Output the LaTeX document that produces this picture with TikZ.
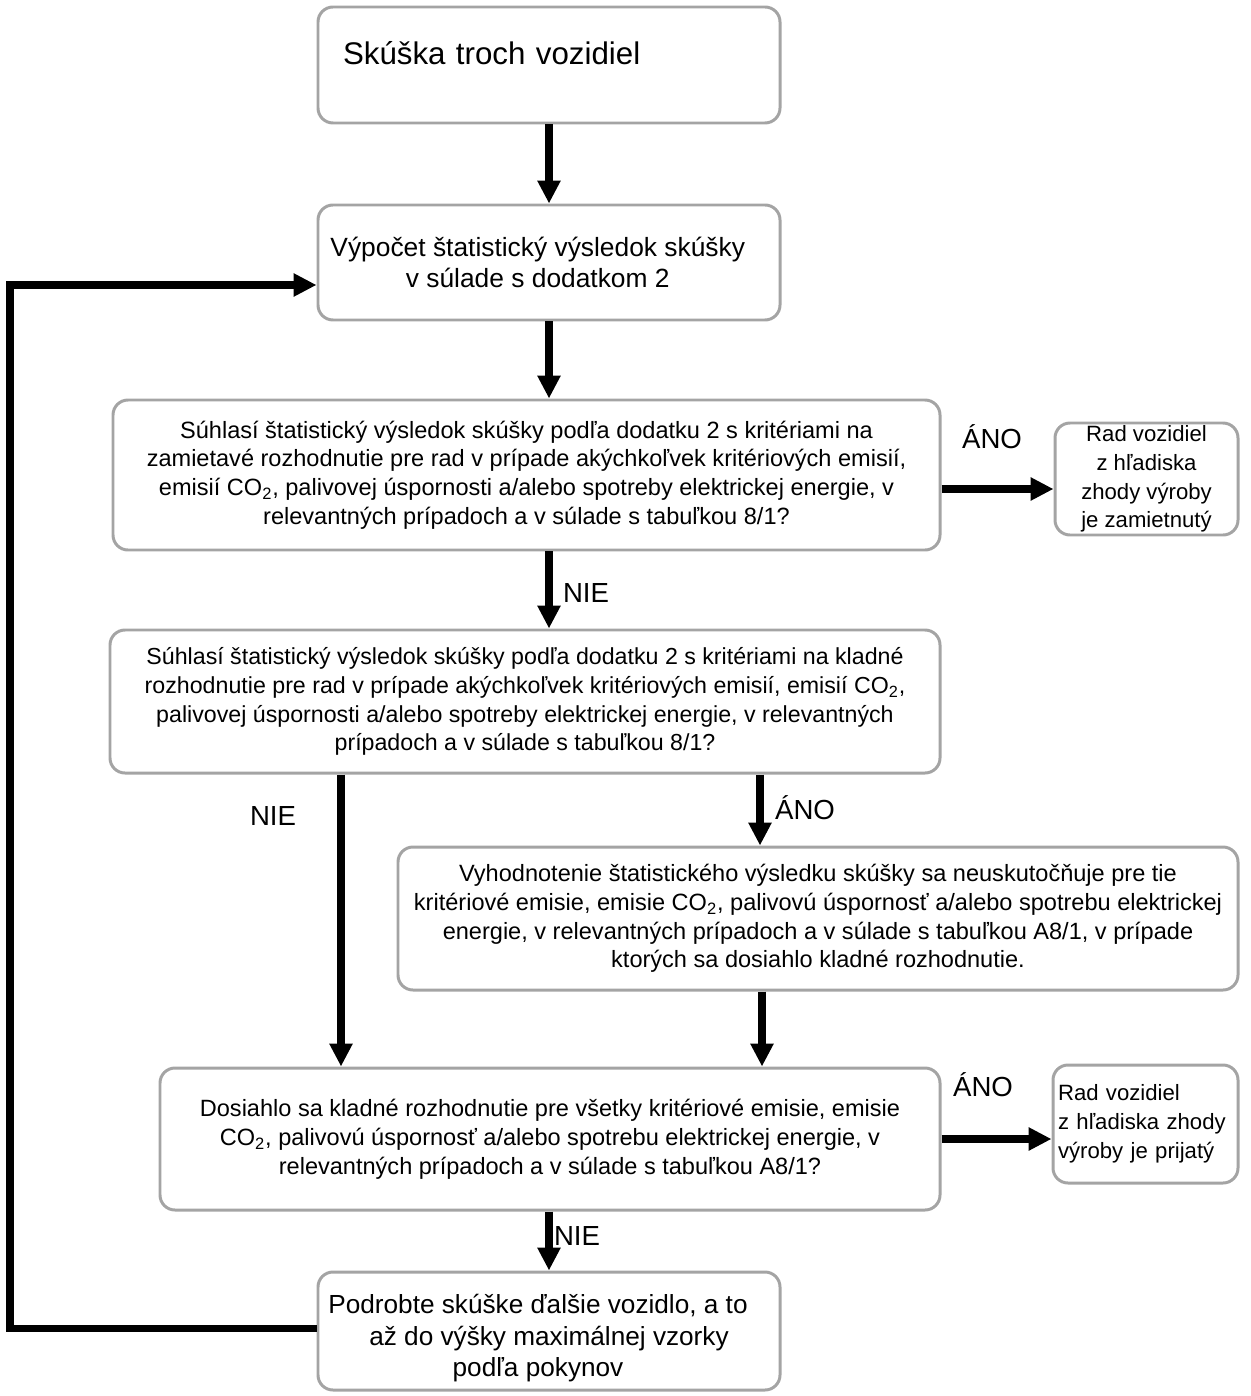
\documentclass[tikz,border=0pt]{standalone}
\usepackage{fontspec}
\setmainfont{Liberation Sans}
\usetikzlibrary{arrows.meta,positioning,calc}
\definecolor{BoxGray}{HTML}{A4A4A4}

\begin{document}
\begin{tikzpicture}[
  box/.style={draw=BoxGray,line width=1.7pt,fill=white,
    rounded corners=0.3cm,align=center,inner sep=0pt,
    font=\fontsize{13.4}{16.4}\selectfont},
  bigbox/.style={box,font=\fontsize{15}{17.2}\selectfont},
  sidebox/.style={box,font=\fontsize{12.6}{16.4}\selectfont},
  answer/.style={inner sep=0pt,font=\fontsize{15.7}{18}\selectfont},
  flow/.style={-{Triangle[length=4.6mm,width=4.4mm]},line width=4pt}
]
\useasboundingbox (0,0) rectangle (25,-27.92);

% main column
\node[bigbox,align=left,text width=8.24cm,inner xsep=0.5cm,minimum height=2.32cm,
  text depth=0.5cm,font=\fontsize{17.8}{20}\selectfont] (trial) at (10.98,-1.30)
  {Skúška troch vozidiel};
\node[bigbox,minimum width=9.24cm,minimum height=2.30cm] (calc) at (10.98,-5.25)
  {Výpočet štatistický výsledok skúšky\hspace*{0.45cm}\\v súlade s dodatkom 2\hspace*{0.45cm}};
\node[box,minimum width=16.54cm,minimum height=3.0cm] (reject) at (10.53,-9.50)
  {Súhlasí štatistický výsledok skúšky podľa dodatku 2 s kritériami na\\
   zamietavé rozhodnutie pre rad v prípade akýchkoľvek kritériových emisií,\\
   emisií CO\textsubscript{2}, palivovej úspornosti a/alebo spotreby elektrickej energie, v\\
   relevantných prípadoch a v súlade s tabuľkou 8/1?};
\node[box,minimum width=16.6cm,minimum height=2.86cm,
  font=\fontsize{13.2}{16.4}\selectfont] (accept) at (10.50,-14.03)
  {Súhlasí štatistický výsledok skúšky podľa dodatku 2 s kritériami na kladné\\
   rozhodnutie pre rad v prípade akýchkoľvek kritériových emisií, emisií CO\textsubscript{2},\\
   palivovej úspornosti a/alebo spotreby elektrickej energie, v relevantných\\
   prípadoch a v súlade s tabuľkou 8/1?};
\node[box,minimum width=16.8cm,minimum height=2.86cm] (skip) at (16.36,-18.37)
  {Vyhodnotenie štatistického výsledku skúšky sa neuskutočňuje pre tie\\
   kritériové emisie, emisie CO\textsubscript{2}, palivovú úspornosť a/alebo spotrebu elektrickej\\
   energie, v relevantných prípadoch a v súlade s tabuľkou A8/1, v prípade\\
   ktorých sa dosiahlo kladné rozhodnutie.};
\node[box,minimum width=15.6cm,minimum height=2.84cm] (all) at (11.0,-22.78)
  {Dosiahlo sa kladné rozhodnutie pre všetky kritériové emisie, emisie\\
   CO\textsubscript{2}, palivovú úspornosť a/alebo spotrebu elektrickej energie, v\\
   relevantných prípadoch a v súlade s tabuľkou A8/1?};
\node[bigbox,minimum width=9.24cm,minimum height=2.36cm,text height=1.93cm,
  font=\fontsize{14.9}{17.9}\selectfont] (next) at (10.98,-26.62)
  {Podrobte skúške ďalšie vozidlo, a to\hspace*{0.44cm}\\
   až do výšky maximálnej vzorky\hspace*{0.44cm}\\podľa pokynov\hspace*{0.44cm}};

% outcomes
\node[sidebox,minimum width=3.66cm,minimum height=2.24cm] (failed) at (22.93,-9.58)
  {Rad vozidiel\\z hľadiska\\zhody výroby\\je zamietnutý};
\node[sidebox,align=left,text width=3.5cm,inner xsep=0.1cm,minimum height=2.36cm]
  (passed) at (22.91,-22.48)
  {Rad vozidiel\\z hľadiska zhody\\výroby je prijatý};

% answers
\node[answer] (yes1) at (19.84,-8.74) {ÁNO};
\node[answer] (no1) at (11.72,-11.86) {NIE};
\node[answer] (no2) at (5.46,-16.32) {NIE};
\node[answer] (yes2) at (16.10,-16.16) {ÁNO};
\node[answer] (yes3) at (19.66,-21.70) {ÁNO};
\node[answer] (no3) at (11.54,-24.72) {NIE};

% connectors
\draw[flow] (trial.south) -- (calc.north);
\draw[flow] (calc.south) -- (reject.north -| calc.south);
\draw[flow] ([yshift=-0.28cm]reject.east) coordinate (r1) -- (failed.west |- r1);
\draw[flow] (reject.south -| calc.south) -- (accept.north -| calc.south);
\draw[flow] ([xshift=-3.68cm]accept.south) coordinate (a1) -- (all.north -| a1);
\draw[flow] ([xshift=4.7cm]accept.south) coordinate (a2) -- (skip.north -| a2);
\draw[flow] ([xshift=-1.12cm]skip.south) coordinate (s1) -- (all.north -| s1);
\draw[flow] (all.east) -- (passed.west |- all.east);
\draw[flow] (all.south -| next.north) -- (next.north);

% loop back
\coordinate (side) at (0.2,0);
\coordinate (entry) at ([yshift=-0.45cm]calc.west);
\draw[flow] ([yshift=0.06cm]next.west) -| (side |- entry) -- (entry);
\end{tikzpicture}
\end{document}
